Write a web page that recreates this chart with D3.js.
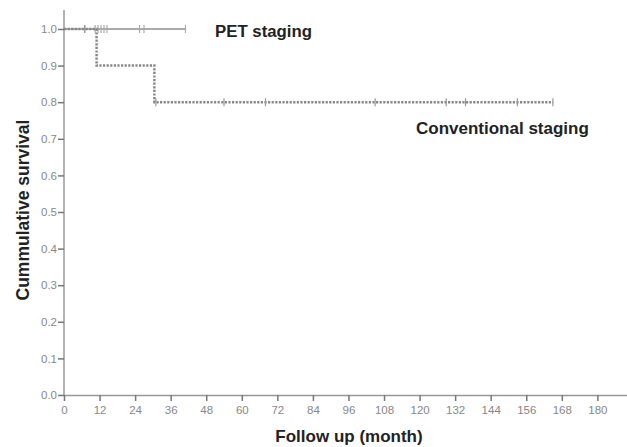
<!DOCTYPE html>
<html>
<head>
<meta charset="utf-8">
<script src="https://cdn.jsdelivr.net/npm/d3@7"></script>
<style>
  body { margin: 0; background: #fff; }
  text { font-family: "Liberation Sans", Arial, sans-serif; }
</style>
</head>
<body>
<svg id="chart" width="627" height="447"></svg>
<script>
// steps of each curve: [time, survival]
const petSteps = [[0, 1.0], [41, 1.0]];
const petCensored = [7, 10.5, 11.5, 12.5, 13.5, 14.5, 25.5, 27, 41];

const convSteps = [[0, 1.0], [11, 1.0], [11, 0.9], [30.5, 0.9], [30.5, 0.8], [165, 0.8]];
const convCensored = [[7, 1.0], [31, 0.8], [54, 0.8], [68, 0.8], [105, 0.8], [129, 0.8], [135.5, 0.8], [153, 0.8], [165, 0.8]];

const xTicks = d3.range(0, 181, 12);
const yTicks = d3.range(0, 11).map(d => d / 10);

const svg = d3.select("#chart");

const x = d3.scaleLinear().domain([0, 190]).range([64, 627]);
const y = d3.scaleLinear().domain([0, 1]).range([395, 29]);

//axes
const xAxis = svg.append("g")
  .attr("transform", "translate(0,395)")
  .call(d3.axisBottom(x).tickValues(xTicks).tickSize(6).tickSizeOuter(0).tickFormat(d3.format("d")));
const yAxis = svg.append("g")
  .attr("transform", "translate(64,0)")
  .call(d3.axisLeft(y).tickValues(yTicks).tickSize(6).tickSizeOuter(0).tickFormat(d3.format(".1f")));

// extend y axis line to top
yAxis.select(".domain").attr("d", "M0,395V10");

[xAxis, yAxis].forEach(ax => {
  ax.select(".domain").attr("stroke", "#999").attr("stroke-width", 1.5);
  ax.selectAll(".tick line").attr("stroke", "#777").attr("stroke-width", 1.5);
  ax.selectAll(".tick text").attr("fill", "#888").style("font-size", "11.5px");
});
xAxis.selectAll(".tick text").attr("dy", "0.85em");
yAxis.selectAll(".tick text").attr("x", -7);

const line = d3.line().x(d => x(d[0])).y(d => y(d[1]));

//PET curve
svg.append("path")
  .datum(petSteps)
  .attr("d", line)
  .attr("fill", "none")
  .attr("stroke", "#aaa")
  .attr("stroke-width", 2.2);

svg.append("g").selectAll("line")
  .data(petCensored)
  .enter()
  .append("line")
  .attr("x1", d => x(d)).attr("x2", d => x(d))
  .attr("y1", y(1) - 4).attr("y2", y(1) + 4)
  .attr("stroke", "#aaa")
  .attr("stroke-width", 1.2);

//Conventional curve
svg.append("path")
  .datum(convSteps)
  .attr("d", line)
  .attr("fill", "none")
  .attr("stroke", "#888")
  .attr("stroke-width", 2.5)
  .attr("stroke-dasharray", "2.2,1.4");

svg.append("g").selectAll("line")
  .data(convCensored)
  .enter()
  .append("line")
  .attr("x1", d => x(d[0])).attr("x2", d => x(d[0]))
  .attr("y1", d => y(d[1]) - 4).attr("y2", d => y(d[1]) + 4)
  .attr("stroke", "#999")
  .attr("stroke-width", 1.2);

//labels
svg.append("text")
  .attr("x", 215).attr("y", 37)
  .attr("font-weight", "bold").attr("font-size", 16.8).attr("fill", "#222")
  .text("PET staging");

svg.append("text")
  .attr("x", 416).attr("y", 134)
  .attr("font-weight", "bold").attr("font-size", 17).attr("fill", "#222")
  .text("Conventional staging");

svg.append("text")
  .attr("x", 349).attr("y", 442)
  .attr("text-anchor", "middle")
  .attr("font-weight", "bold").attr("font-size", 17).attr("fill", "#222")
  .text("Follow up (month)");

svg.append("text")
  .attr("transform", "translate(29,210) rotate(-90)")
  .attr("text-anchor", "middle")
  .attr("font-weight", "bold").attr("font-size", 17.5).attr("fill", "#222")
  .text("Cummulative survival");
</script>
</body>
</html>
